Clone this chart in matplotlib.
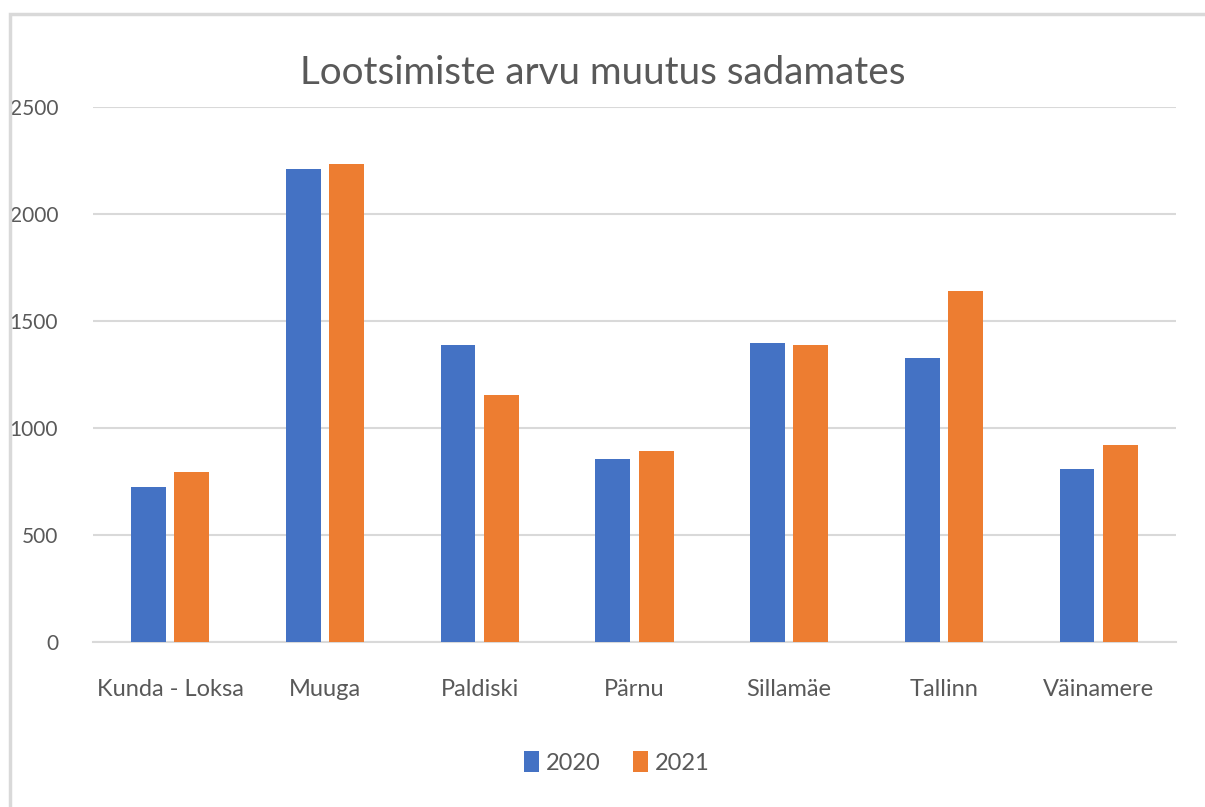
import matplotlib.pyplot as plt
import numpy as np
from matplotlib.patches import Rectangle

ports = ["Kunda - Loksa", "Muuga", "Paldiski", "Pärnu", "Sillamäe", "Tallinn", "Väinamere"]
pilotage_2020 = [725, 2212, 1388, 856, 1396, 1326, 806]
pilotage_2021 = [796, 2232, 1155, 892, 1387, 1641, 920]
years = ["2020", "2021"]

plt.rcParams['font.family'] = ['Lato', 'DejaVu Sans']
text_color = "#595959"

fig = plt.figure(figsize=(12.05, 8.07), dpi=100)
ax = fig.add_axes([0.077, 0.2045, 0.899, 0.663])

x = np.arange(len(ports))
width = 0.225
ax.bar(x - 0.14, pilotage_2020, width, color="#4472C4", label=years[0], zorder=3)
ax.bar(x + 0.14, pilotage_2021, width, color="#ED7D31", label=years[1], zorder=3)

ax.set_xlim(-0.5, len(ports) - 0.5)
ax.set_ylim(0, 2500)
ax.set_yticks(range(0, 2501, 500))
ax.set_xticks(x)
ax.set_xticklabels(ports)
ax.grid(axis="y", color="#d9d9d9", linewidth=1.5, zorder=0)
ax.tick_params(length=0, colors=text_color)
ax.tick_params(axis="x", labelsize=17, pad=27)
ax.tick_params(axis="y", labelsize=15, pad=25)
for s in ["top", "right", "left"]:
    ax.spines[s].set_visible(False)
ax.spines["bottom"].set_color("#d9d9d9")
ax.spines["bottom"].set_linewidth(1.5)

fig.text(0.5, 0.91, "Lootsimiste arvu muutus sadamates", ha="center", va="center",
         fontsize=27.8, color=text_color)

fig.legend(loc="center", bbox_to_anchor=(0.512, 0.055), ncol=2, frameon=False,
           fontsize=17, handlelength=0.6, handleheight=1.0, handletextpad=0.3,
           columnspacing=1.4, labelcolor=text_color)

fig.patches.append(Rectangle((10 / 1205, -0.1), 1.2, 1 - 14 / 807 + 0.1,
                             transform=fig.transFigure, fill=False,
                             edgecolor="#d9d9d9", linewidth=2.5))

fig.savefig("out.png", dpi=100)
